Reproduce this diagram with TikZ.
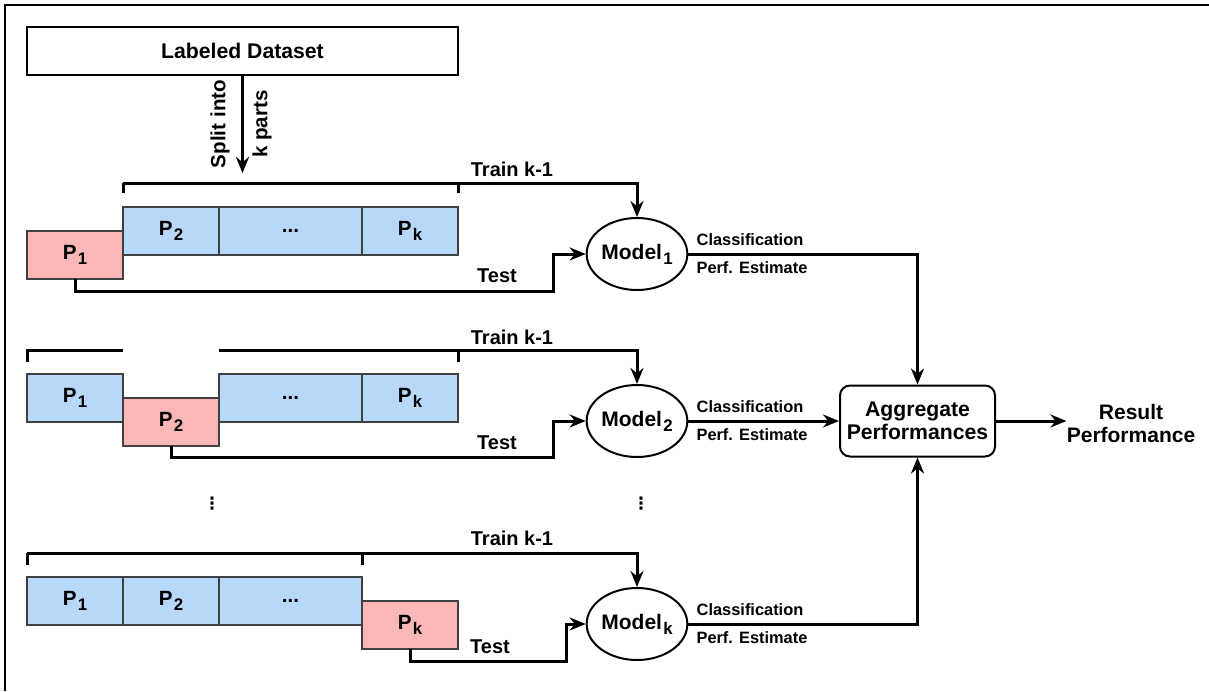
\documentclass[tikz,border=0pt]{standalone}
\usepackage{fontspec}
\setmainfont{Liberation Sans}
\newfontfamily\symfont{DejaVu Sans}
\usetikzlibrary{positioning, arrows.meta, shapes.geometric}
\definecolor{partblue}{RGB}{183,216,248}
\definecolor{partred}{RGB}{249,183,183}
\newcommand\lowsub[1]{\kern0.6pt\raisebox{-2.6pt}{\fontsize{8.4}{9}\selectfont #1}}

\begin{document}
\begin{tikzpicture}[x=0.5pt, y=-0.5pt, >={Stealth[length=8pt,width=6.5pt]},
    lbl/.style={font=\fontsize{10}{12}\selectfont\bfseries, inner sep=0pt},
    smalllbl/.style={font=\fontsize{8.2}{10}\selectfont\bfseries, inner sep=0pt},
    vlbl/.style={lbl, rotate=90, font=\fontsize{10.3}{12}\selectfont\bfseries},
    vdotlbl/.style={inner sep=0pt, font=\symfont\fontsize{8.5}{9}\selectfont\bfseries},
    part/.style={draw=black!75, line width=1pt, minimum width=48pt, minimum height=24pt,
      inner sep=0pt, outer sep=0pt, font=\fontsize{10.3}{12}\selectfont\bfseries},
    trainpart/.style={part, fill=partblue},
    testpart/.style={part, fill=partred},
    wide/.style={minimum width=71.5pt},
    model/.style={draw, ellipse, line width=1pt, minimum width=48pt, minimum height=36pt,
      inner sep=0pt, font=\fontsize{10.5}{12}\selectfont\bfseries},
    aggbox/.style={draw, rounded corners=5pt, line width=1pt, minimum width=77.5pt,
      minimum height=35.5pt, inner sep=0pt, align=center, font=\fontsize{10.6}{11.5}\selectfont\bfseries},
    link/.style={line width=1.5pt},
    border/.style={line width=1pt}]
  \useasboundingbox (0,0) rectangle (1209,691);
  \draw[border] (5,691) -- (5,5) -- (1209,5);

  % dataset and split
  \node[draw, line width=1pt, minimum width=215.5pt, minimum height=24pt,
    font=\fontsize{10.6}{12}\selectfont\bfseries] (ds) at (242.5,51) {Labeled Dataset};
  \coordinate (split) at (242.5,173);
  \draw[link, ->] (ds.south) -- (split);
  \node[vlbl, anchor=south] (spl) at (230,124) {Split into};
  \node[vlbl, anchor=north] (kp) at (252,124) {k parts};

  % fold 1
  \node[trainpart] (r1b2) at (171,231) {P\lowsub{2}};
  \node[trainpart, wide, right=0pt of r1b2] (r1d) {...};
  \node[trainpart, right=0pt of r1d] (r1bk) {P\lowsub{k}};
  \node[testpart] (r1t) at (75,255) {P\lowsub{1}};
  \node[model] (m1) at (637,254) {Model\lowsub{1}};
  \coordinate (t1) at ([yshift=12pt]r1b2.north west);
  \draw[link] ([yshift=7pt]r1b2.north west) -- (t1);
  \draw[link] ([yshift=7pt]r1bk.north east) -- ([yshift=12pt]r1bk.north east);
  \draw[link, ->] (t1) -- (t1 -| m1) -- (m1.north);
  \node[lbl] (tr1) at (512,169) {Train k-1};
  \coordinate (s1) at (553,291);
  \draw[link, ->] (r1t.south) |- (s1) |- (m1.west);
  \node[lbl] (te1) at (497,276) {Test};

  % fold 2
  \node[trainpart] (r2b1) at (75,398) {P\lowsub{1}};
  \node[testpart] (r2t) at (171,422) {P\lowsub{2}};
  \node[trainpart, wide] (r2d) at (290.5,398) {...};
  \node[trainpart, right=0pt of r2d] (r2bk) {P\lowsub{k}};
  \node[model] (m2) at (637,421) {Model\lowsub{2}};
  \draw[link] ([yshift=6pt]r2b1.north west) -- ([yshift=12pt]r2b1.north west)
    -- ([yshift=12pt]r2b1.north east);
  \coordinate (t2) at ([yshift=12pt]r2d.north west);
  \draw[link] ([yshift=6pt]r2bk.north east) -- ([yshift=12pt]r2bk.north east);
  \draw[link, ->] (t2) -- (t2 -| m2) -- (m2.north);
  \node[lbl] (tr2) at (512,337) {Train k-1};
  \coordinate (s2) at (553,457);
  \draw[link, ->] (r2t.south) |- (s2) |- (m2.west);
  \node[lbl] (te2) at (497,443) {Test};

  % dots
  \node[vdotlbl] (vd1) at (212,504) {⋮};
  \node[vdotlbl] (vd2) at (641,504) {⋮};

  % fold k
  \node[trainpart] (rkb1) at (75,601) {P\lowsub{1}};
  \node[trainpart, right=0pt of rkb1] (rkb2) {P\lowsub{2}};
  \node[trainpart, wide, right=0pt of rkb2] (rkd) {...};
  \node[testpart] (rkt) at (410,625) {P\lowsub{k}};
  \node[model] (mk) at (637,624) {Model\lowsub{k}};
  \coordinate (tk) at ([yshift=12pt]rkb1.north west);
  \draw[link] ([yshift=6pt]rkb1.north west) -- (tk);
  \draw[link] ([yshift=6pt]rkd.north east) -- ([yshift=12pt]rkd.north east);
  \draw[link, ->] (tk) -- (tk -| mk) -- (mk.north);
  \node[lbl] (trk) at (512,538) {Train k-1};
  \coordinate (sk) at (566,661);
  \draw[link, ->] (rkt.south) |- (sk) |- (mk.west);
  \node[lbl] (tek) at (490,647) {Test};

  % aggregation
  \node[aggbox] (agg) at (917.5,421) {Aggregate\\Performances};
  \node[lbl, align=center, font=\fontsize{10.5}{11.5}\selectfont\bfseries] (res) at (1131,423) {Result\\Performance};
  \draw[link, ->] (m1.east) -| (agg.north);
  \draw[link, ->] (m2.east) -- (agg.west);
  \draw[link, ->] (mk.east) -| (agg.south);
  \draw[link, ->] (agg.east) -- (agg.east -| res.west);
  \foreach \y/\n in {254/1, 421/2, 624/k} {
    \node[smalllbl] (cl\n) at (750,\y-14) {Classification};
    \node[smalllbl] (pe\n) at (752,\y+14) {Perf. Estimate};
  }
\end{tikzpicture}
\end{document}
